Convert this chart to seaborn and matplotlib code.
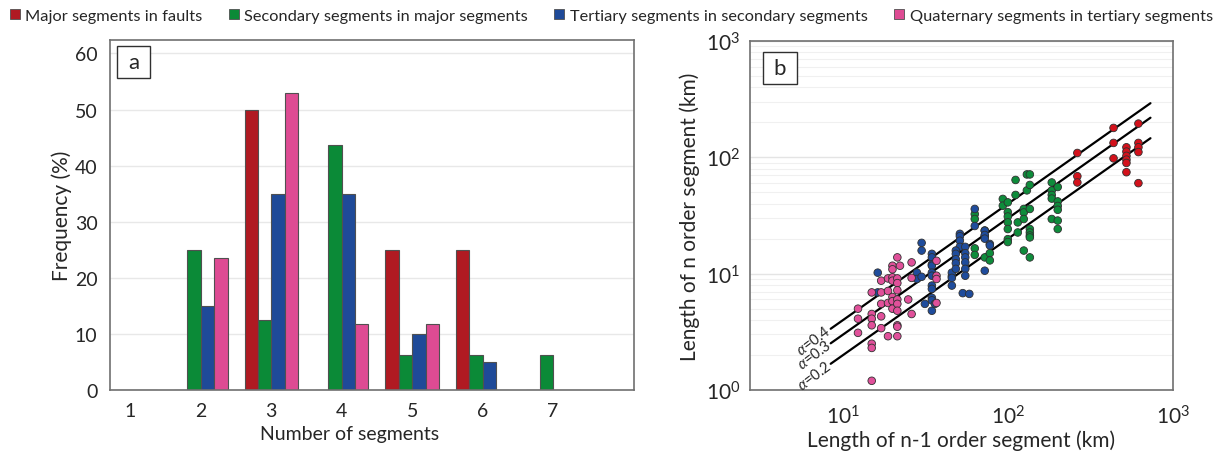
import numpy as np
import pandas as pd
import matplotlib
matplotlib.use('Agg')
import matplotlib.pyplot as plt
from matplotlib.patches import Patch, Rectangle
from matplotlib.ticker import LogLocator, FixedLocator
import seaborn as sns

sns.set_style('white')
plt.rcParams['font.family'] = ['Lato', 'DejaVu Sans']
plt.rcParams.update({'mathtext.fontset': 'custom', 'mathtext.rm': 'Lato',
                     'mathtext.it': 'Lato:italic'})

ORDERS = ['Major segments in faults', 'Secondary segments in major segments',
          'Tertiary segments in secondary segments', 'Quaternary segments in tertiary segments']
BAR_COLORS = ['#b01a22', '#0b8a37', '#1f4a98', '#de4b93']
DOT_COLORS = ['#d3111b', '#0e8c3b', '#1f4c9c', '#e0509a']

# panel a: frequency (%) of the number of segments
N_SEGMENTS = ['1', '2', '3', '4', '5', '6', '7']
FREQ_MAJOR = [0, 0, 50, 0, 25, 25, 0]
FREQ_SECONDARY = [0, 25, 12.5, 43.75, 6.25, 6.25, 6.25]
FREQ_TERTIARY = [0, 15, 35, 35, 10, 5, 0]
FREQ_QUATERNARY = [0, 23.5, 52.9, 11.8, 11.8, 0, 0]

# panel b: length of n-1 order segment (parent) vs n order segment (child), km
MAJOR_PARENT = [263, 263, 263, 436, 436, 436, 522, 522, 522, 522, 522, 522,
                617, 617, 617, 617, 617]
MAJOR_CHILD = [109, 68.8, 60.8, 179, 133, 98, 122, 112, 103, 95.5, 89.5, 74.5,
               195, 133, 122, 111, 60]

SECONDARY_PARENT = [62.8, 62.8, 62.8, 62.8, 72.2, 72.2, 72.2, 77.5, 77.5,
                    92.9, 92.9, 99.6, 99.6, 99.6, 99.6, 99.6, 99.6, 99.6,
                    111, 111, 114.5, 114.5, 124.5, 124.5, 124.5, 124.5, 130, 130,
                    135.5, 135.5, 135.5, 135.5, 135.5, 135.5, 135.5, 135.5,
                    184, 184, 184, 184, 184, 200, 200, 200, 200, 200, 200]
SECONDARY_CHILD = [32.5, 29.5, 16.5, 14.5, 23.5, 21, 13.8, 15.0, 13.0,
                   43.9, 38.4, 41, 33.8, 31, 27.6, 24.2, 19.8, 18.7,
                   63.9, 47.5, 27.6, 22.6, 36, 33.6, 29.5, 15.8, 71.3, 52,
                   71.3, 57.9, 36, 24.2, 22.6, 21.3, 20.5, 13.8,
                   60.8, 51.9, 47.5, 44.2, 29.5, 55.6, 41.8, 38.2, 35.4, 28.6, 24.2]

TERTIARY_PARENT = [16.2, 16.2, 28, 28, 29.9, 29.9, 29.9, 31.3,
                   34.5, 34.5, 34.5, 34.5, 34.5, 34.5, 34.5, 34.5, 34.5, 34.5, 34.5,
                   36, 45.6, 45.6, 45.6, 45.6,
                   51, 51, 51, 51, 48.2, 48.2, 48.2, 48.2, 48.2, 53.1,
                   55, 55, 55, 55, 55, 55, 58.2, 62.8, 62.8,
                   72.2, 72.2, 72.2, 72.2, 77.5, 77.5]
TERTIARY_CHILD = [10.2, 6.9, 10.2, 9.0, 18.4, 15.8, 9.4, 5.5,
                  14.8, 13.8, 12.0, 11.7, 10.2, 9.6, 7.9, 7.4, 6.2, 5.9, 4.8,
                  5.5, 9.5, 10.2, 9.2, 7.9,
                  22.0, 21.0, 19.2, 17.0, 15.8, 14.8, 13.3, 12.3, 11.0, 6.8,
                  17.0, 15.0, 13.8, 12.5, 11.0, 9.6, 6.7, 36, 25.7,
                  23.4, 21.5, 20.0, 10.6, 18.0, 17.5]

QUATERNARY_PARENT = [12.3, 12.3, 12.3, 14.9, 14.9, 14.9, 14.9, 14.9, 14.9, 14.9,
                     17.0, 17.0, 17.0, 17.0, 17.0, 18.7, 18.7, 18.7, 18.7,
                     19.9, 19.9, 19.9, 19.9, 19.9, 19.9, 19.9,
                     21.3, 21.3, 21.3, 21.3, 21.3, 21.3, 21.3, 21.3, 21.3, 21.3,
                     22.1, 24.8, 26.0, 26.0, 26.0, 36.8, 36.8, 36.8, 36.8]
QUATERNARY_CHILD = [5.0, 4.1, 3.1, 6.9, 4.5, 4.1, 3.6, 2.5, 2.3, 1.2,
                    8.7, 6.9, 5.5, 4.3, 3.4, 9.1, 7.1, 5.6, 2.9,
                    11.7, 10.9, 9.3, 8.7, 6.3, 5.8, 5.0,
                    13.8, 9.1, 8.3, 7.2, 6.0, 5.5, 4.8, 3.6, 3.5, 2.9,
                    11.7, 6.0, 12.5, 9.2, 4.5, 12.9, 9.6, 9.0, 5.6]

ALPHAS = [0.4, 0.3, 0.2]
LINE_X = [8.4, 730]

freqs = [FREQ_MAJOR, FREQ_SECONDARY, FREQ_TERTIARY, FREQ_QUATERNARY]
bar_df = pd.concat([pd.DataFrame({'n': N_SEGMENTS, 'freq': f, 'order': o})
                    for f, o in zip(freqs, ORDERS)], ignore_index=True)

parents = [MAJOR_PARENT, SECONDARY_PARENT, TERTIARY_PARENT, QUATERNARY_PARENT]
children = [MAJOR_CHILD, SECONDARY_CHILD, TERTIARY_CHILD, QUATERNARY_CHILD]
dot_df = pd.concat([pd.DataFrame({'parent': p, 'child': c, 'order': o})
                    for p, c, o in zip(parents, children, ORDERS)], ignore_index=True)


def panel_tag(ax, label, x0, y0, w, h):
    # boxed panel letter, in axes fractions
    ax.add_patch(Rectangle((x0, y0), w, h, transform=ax.transAxes, fc='white',
                           ec='#303030', lw=1, zorder=5))
    ax.text(x0 + w / 2, y0 + h / 2, label, transform=ax.transAxes, ha='center',
            va='center', fontsize=16, zorder=6)


fig = plt.figure(figsize=(12.27, 4.52), dpi=100)
ax_a = fig.add_axes([110 / 1227, 61 / 452, 524 / 1227, 350 / 452])
ax_b = fig.add_axes([750 / 1227, 61 / 452, 423 / 1227, 349 / 452])

# ---- panel a
sns.barplot(data=bar_df, x='n', y='freq', hue='order', palette=BAR_COLORS,
            saturation=1, width=0.76, gap=0, edgecolor='#505050', linewidth=0.8,
            legend=False, ax=ax_a)
ax_a.set_xlim(-0.29, 7.15)
ax_a.set_ylim(0, 62.4)
ax_a.set_yticks(range(0, 61, 10))
ax_a.grid(axis='y', color='#e8e8e8', lw=1)
ax_a.set_axisbelow(True)
ax_a.tick_params(length=0, labelsize=14, pad=9)
ax_a.set_xlabel('Number of segments', fontsize=14, labelpad=4)
ax_a.xaxis.set_label_coords(0.458, -0.10)
ax_a.set_ylabel('Frequency (%)', fontsize=15, labelpad=2)
for sp in ax_a.spines.values():
    sp.set_color('#707070')
    sp.set_linewidth(1.2)
panel_tag(ax_a, 'a', 0.0134, 0.891, 0.063, 0.0914)

# ---- panel b
ax_b.set_xscale('log')
ax_b.set_yscale('log')
sns.scatterplot(data=dot_df, x='parent', y='child', hue='order', palette=DOT_COLORS,
                s=30, edgecolor='#303030', linewidth=0.6, legend=False, zorder=3, ax=ax_b)
for a in ALPHAS:
    xs = np.array(LINE_X)
    ax_b.plot(xs, a * xs, color='black', lw=1.6, zorder=2)
    ax_b.annotate(rf'$\alpha$={a}', xy=(xs[0], a * xs[0]), xytext=(-1, 0),
                  textcoords='offset points', ha='right', va='center',
                  rotation=37, rotation_mode='anchor', fontsize=10.5)
ax_b.set_xlim(10 ** 0.435, 1000)
ax_b.set_ylim(1, 1000)
ax_b.xaxis.set_major_locator(FixedLocator([10, 100, 1000]))
ax_b.yaxis.set_major_locator(FixedLocator([1, 10, 100, 1000]))
ax_b.xaxis.set_minor_locator(FixedLocator([]))
ax_b.yaxis.set_minor_locator(LogLocator(subs=range(2, 10)))
ax_b.grid(axis='y', which='major', color='#e4e4e4', lw=1)
ax_b.grid(axis='y', which='minor', color='#f0f0f0', lw=0.8)
ax_b.set_axisbelow(True)
ax_b.tick_params(axis='x', direction='in', length=6, color='#555555', labelsize=15, pad=10)
ax_b.tick_params(axis='y', direction='out', length=5, color='#555555', labelsize=15, pad=2)
ax_b.tick_params(which='minor', length=0)
ax_b.set_xlabel('Length of n-1 order segment (km)', fontsize=15, labelpad=2)
ax_b.set_ylabel('Length of n order segment (km)', fontsize=15, labelpad=4)
for sp in ax_b.spines.values():
    sp.set_color('#707070')
    sp.set_linewidth(1.2)
panel_tag(ax_b, 'b', 0.0307, 0.877, 0.080, 0.0917)

handles = [Patch(facecolor=c, edgecolor='#505050', lw=0.6) for c in BAR_COLORS]
fig.legend(handles, ORDERS, loc='upper left', bbox_to_anchor=(0.0, 1.0), ncol=4,
           frameon=False, fontsize=11.8, handlelength=0.6, handleheight=0.6,
           handletextpad=0.35, columnspacing=1.6, borderaxespad=0.2)

fig.savefig('out.png', dpi=100)
